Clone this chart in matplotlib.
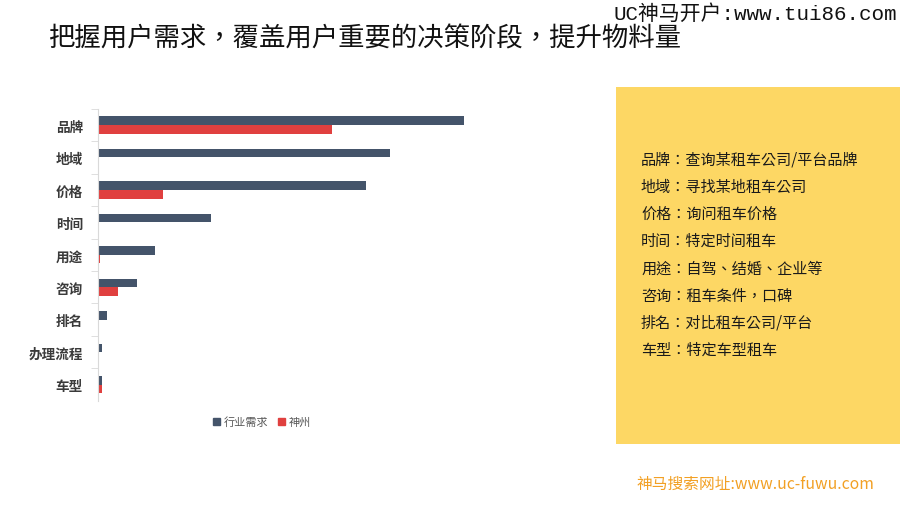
import matplotlib
matplotlib.use("Agg")
import matplotlib.pyplot as plt
from matplotlib.patches import Rectangle, Patch

plt.rcParams['font.family'] = ['Noto Sans CJK SC', 'DejaVu Sans']
TC = ['Noto Sans CJK TC', 'DejaVu Sans']  # centred full-width punctuation

# data (arbitrary units)
categories = ["品牌", "地域", "价格", "时间", "用途", "咨询", "排名", "办理流程", "车型"]
industry = [366, 292.5, 268, 113, 57.5, 39, 9, 4.5, 4]
shenzhou = [234.5, 0, 65, 1.5, 2, 20, 0, 0, 4.5]
series_names = ["行业需求", "神州"]

notes = [
    "品牌：查询某租车公司/平台品牌",
    "地域：寻找某地租车公司",
    "价格：询问租车价格",
    "时间：特定时间租车",
    "用途：自驾、结婚、企业等",
    "咨询：租车条件，口碑",
    "排名：对比租车公司/平台",
    "车型：特定车型租车",
]

title = "把握用户需求，覆盖用户重要的决策阶段，提升物料量"
mark_top = "UC神马开户:www.tui86.com"
mark_bottom = "神马搜索网址:www.uc-fuwu.com"

W, H = 900, 506
fig = plt.figure(figsize=(9, 5.06), dpi=100)
fig.patch.set_facecolor("white")

def fx(px):
    return px / W

def fy(py):
    return 1 - py / H

# bar chart
ax_l, ax_t, ax_w, ax_h = 97.5, 109.8, 400, 292
ax = fig.add_axes([fx(ax_l), fy(ax_t + ax_h), ax_w / W, ax_h / H])
ypos = list(range(len(categories)))
bh = 0.265
ax.barh([y - bh / 2 for y in ypos], industry, height=bh, color="#44546A")
ax.barh([y + bh / 2 for y in ypos], shenzhou, height=bh, color="#E0403F")
ax.set_xlim(0, 400)
ax.set_ylim(len(categories) - 0.5, -0.5)
ax.set_yticks(ypos)
ax.set_yticklabels(categories, fontsize=9.8, fontweight="bold", color="#3A3A3A")
ax.set_yticks([y + 0.5 for y in ypos[:-1]] + [-0.5], minor=True)
ax.tick_params(axis="y", which="major", length=0, pad=10.5)
ax.tick_params(axis="y", which="minor", length=5, color="#D9D9D9")
ax.set_xticks([])
for s in ["top", "right", "bottom"]:
    ax.spines[s].set_visible(False)
ax.spines["left"].set_color("#D9D9D9")
ax.patch.set_alpha(0)

handles = [Patch(color="#44546A"), Patch(color="#E0403F")]
fig.legend(handles, series_names, loc="center", bbox_to_anchor=(fx(262), fy(423)),
           ncol=2, frameon=False, fontsize=8, handlelength=0.6, handleheight=0.6,
           handletextpad=0.35, columnspacing=0.9, labelcolor="#595959")

# yellow note box
fig.patches.append(Rectangle((fx(616), fy(445)), fx(900) - fx(616), fy(88) - fy(445),
                             transform=fig.transFigure, facecolor="#FDD764",
                             edgecolor="none", zorder=0))
for i, line in enumerate(notes):
    fig.text(fx(641), fy(160 + i * 27.2), line, fontsize=10.9, color="#1A1A1A",
             va="center", ha="left", family=TC)

# title and watermarks
fig.text(fx(48), fy(39), title, fontsize=19, color="#111111", va="center", ha="left",
         family=TC)
fig.text(fx(897), fy(14), mark_top, fontsize=15, color="#111111", va="center", ha="right",
         family=["Liberation Mono", "Noto Sans CJK SC"])
fig.text(fx(636), fy(484), mark_bottom, fontsize=11.3, color="#F2A024", va="center", ha="left")

fig.savefig("out.png", dpi=100)
